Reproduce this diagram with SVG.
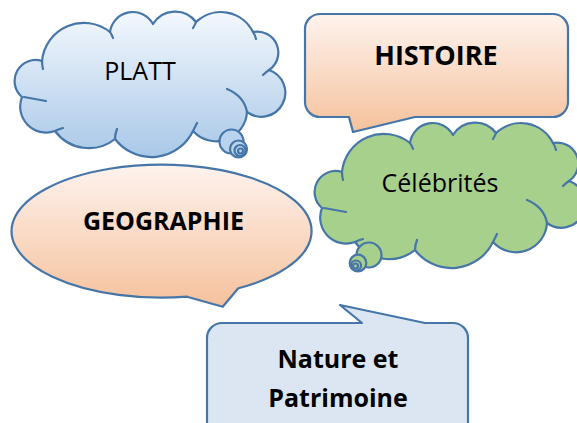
<svg xmlns="http://www.w3.org/2000/svg" xmlns:xlink="http://www.w3.org/1999/xlink" width="577" height="423" viewBox="0 0 577 423">
  <style>
    .ol { stroke: #4675A8; stroke-width: 2.2; stroke-linejoin: round; }
    .tick { fill: none; stroke: #4675A8; stroke-width: 2.2; stroke-linecap: round; }
    .reg { font-family: "Open Sans", "Liberation Sans", sans-serif; font-size: 25px; fill: #000; text-anchor: middle; }
    .bold { font-family: "Open Sans", "Liberation Sans", sans-serif; font-size: 25px; font-weight: bold; fill: #000; text-anchor: middle; }
  </style>
  <defs>
    <linearGradient id="gBlue" x1="0" y1="0" x2="0" y2="1">
      <stop offset="0" stop-color="#F3F8FD"/>
      <stop offset="1" stop-color="#A9C8E8"/>
    </linearGradient>
    <linearGradient id="gPeach" x1="0" y1="0" x2="0" y2="1">
      <stop offset="0" stop-color="#FEF3EE"/>
      <stop offset="1" stop-color="#F5C19C"/>
    </linearGradient>
    <path id="cloudOutline" d="M 7,85 A 21 21 0 0 1 27,49 A 42 42 0 0 1 95,20 A 23 23 0 0 1 138,12 A 26 26 0 0 1 181,10 A 36 36 0 0 1 238,20 A 21 21 0 0 1 254,58 A 24 24 0 1 1 232,100 A 31 31 0 0 1 178,119 A 46 46 0 0 1 100,127 A 42 42 0 0 1 40,119 A 26 26 0 0 1 7,85 Z"/>
    <path id="cloudTicks" d="M 9,85 Q 20,87 31,89 M 27,49 Q 27,53 28,57 M 95,20 Q 97,23 98,26 M 181,10 Q 180,13 178,16 M 238,20 Q 240,23 241,27 M 254,58 Q 251,60 248,63 M 212,77 Q 229,84 232,100 M 178,119 Q 180,115 182,111 M 100,127 Q 100,122 102,117 M 40,119 Q 44,117 48,116"/>
  </defs>

  <g id="platt">
    <use xlink:href="#cloudOutline" href="#cloudOutline" transform="translate(15,12)" fill="url(#gBlue)" class="ol"/>
    <use xlink:href="#cloudTicks" href="#cloudTicks" transform="translate(15,12)" class="tick"/>
    <circle cx="231.5" cy="141.5" r="12" fill="#B9D3EE" class="ol"/>
    <circle cx="238.5" cy="149" r="8.5" fill="#B9D3EE" class="ol"/>
    <circle cx="240" cy="150.5" r="5.5" fill="#B9D3EE" class="ol"/>
    <circle cx="240.5" cy="151" r="2.5" fill="#B9D3EE" class="ol"/>
    <text x="140" y="80" class="reg">PLATT</text>
  </g>

  <g id="histoire">
    <path d="M 320,14 H 553 A 15 15 0 0 1 568,29 V 102 A 15 15 0 0 1 553,117 H 415 L 353,132 L 349,117 H 320 A 15 15 0 0 1 305,102 V 29 A 15 15 0 0 1 320,14 Z" fill="url(#gPeach)" class="ol"/>
    <text x="436" y="65" class="bold" style="font-size:27px">HISTOIRE</text>
  </g>

  <g id="celebrites">
    <use xlink:href="#cloudOutline" href="#cloudOutline" transform="translate(315,123)" fill="#A8D08D" class="ol"/>
    <use xlink:href="#cloudTicks" href="#cloudTicks" transform="translate(315,123)" class="tick"/>
    <circle cx="369" cy="255" r="12.5" fill="#A8D08D" class="ol"/>
    <circle cx="358" cy="263" r="8.3" fill="#A8D08D" class="ol"/>
    <circle cx="356" cy="265.5" r="5" fill="#A8D08D" class="ol"/>
    <circle cx="355.5" cy="266" r="2.5" fill="#A8D08D" class="ol"/>
    <text x="440" y="192" class="reg">Célébrités</text>
  </g>

  <g id="geographie">
    <path d="M 238.3,288.3 A 150 66.5 0 1 0 187,296.7 L 222.7,306.7 Z" fill="url(#gPeach)" class="ol"/>
    <text x="163.5" y="230" class="bold">GEOGRAPHIE</text>
  </g>

  <g id="nature">
    <path d="M 207,440 V 338 A 15 15 0 0 1 222,323 H 362 L 340,305 L 425,323 H 453 A 15 15 0 0 1 468,338 V 440" fill="#DCE6F2" class="ol"/>
    <text x="338" y="368" class="bold">Nature et</text>
    <text x="338" y="407" class="bold">Patrimoine</text>
  </g>

  <g id="connectors"/>
</svg>
